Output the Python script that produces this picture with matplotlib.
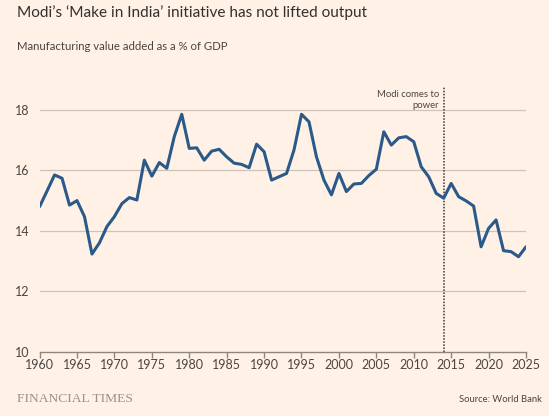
import matplotlib.pyplot as plt

years = list(range(1960, 2026))
share = [14.80, 15.32, 15.85, 15.74, 14.85, 15.00, 14.47, 13.23, 13.60, 14.14,
         14.47, 14.90, 15.10, 15.02, 16.34, 15.81, 16.26, 16.07, 17.12, 17.86,
         16.73, 16.75, 16.34, 16.64, 16.70, 16.45, 16.24, 16.20, 16.09, 16.87,
         16.62, 15.68, 15.79, 15.90, 16.68, 17.86, 17.61, 16.45, 15.68, 15.19,
         15.90, 15.30, 15.55, 15.57, 15.83, 16.04, 17.28, 16.84, 17.08, 17.12,
         16.95, 16.12, 15.79, 15.24, 15.08, 15.57, 15.13, 14.99, 14.82, 13.47,
         14.08, 14.36, 13.34, 13.31, 13.14, 13.47]
yticks = [10, 12, 14, 16, 18]
xticks = list(range(1960, 2030, 5))
modi_year = 2014

bg = '#fff1e5'
text_col = '#4a4542'
grid_col = '#cec3b9'
line_col = '#2b5989'

plt.rcParams['font.family'] = ['Lato', 'DejaVu Sans']

fig = plt.figure(figsize=(5.49, 4.16), dpi=100, facecolor=bg)
ax = fig.add_axes([0.0721, 0.155, 0.886, 0.653], facecolor=bg)

# gridlines
for v in yticks[1:]:
    ax.axhline(v, color=grid_col, lw=0.9, zorder=1)

ax.plot(years, share, color=line_col, lw=2.2, solid_joinstyle='round',
        solid_capstyle='round', zorder=3)

# Modi marker
ax.vlines(modi_year, 10, 18.77, colors='#3a3532', lw=1.1,
          linestyles=(0, (1, 1)), zorder=2)
ax.text(modi_year - 0.6, 18.68, 'Modi comes to\npower', ha='right', va='top',
        fontsize=6.8, color=text_col, linespacing=1.4)

ax.set_xlim(1960, 2025)
ax.set_ylim(10, 19)
ax.set_xticks(xticks)
ax.set_yticks(yticks)

for s in ['top', 'right', 'left']:
    ax.spines[s].set_visible(False)
ax.spines['bottom'].set_color('#8f857d')
ax.spines['bottom'].set_linewidth(1.0)

ax.tick_params(axis='x', length=4, width=1.0, color='#8f857d', pad=1.5,
               labelsize=9, labelcolor=text_col)
ax.tick_params(axis='y', length=0, pad=7, labelsize=9, labelcolor=text_col)

fig.text(0.031, 0.970, "Modi\u2019s \u2018Make in India\u2019 initiative has not lifted output",
         fontsize=11.1, color='#33302e', va='center', ha='left')
fig.text(0.031, 0.889, 'Manufacturing value added as a % of GDP',
         fontsize=8.2, color=text_col, va='center', ha='left')
fig.text(0.031, 0.041, 'FINANCIAL TIMES', fontsize=9.7, color='#9b918a',
         family='Liberation Serif', va='center', ha='left')
fig.text(0.987, 0.039, 'Source: World Bank', fontsize=6.8, color=text_col,
         va='center', ha='right')

fig.savefig('out.png', dpi=100, facecolor=bg)
